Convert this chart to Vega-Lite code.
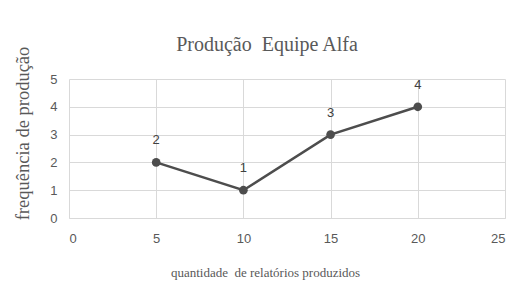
{
  "$schema": "https://vega.github.io/schema/vega-lite/v6.json",
  "autosize": {"type": "none"},
  "width": 436,
  "height": 139,
  "padding": {"left": 69, "top": 79, "right": 16, "bottom": 77},
  "background": "white",
  "config": {
    "view": {"stroke": null},
    "font": "Liberation Sans"
  },
  "title": {
    "text": "Produção\u00a0 Equipe Alfa",
    "font": "Liberation Serif",
    "fontSize": 20,
    "fontWeight": "normal",
    "color": "#595959",
    "anchor": "middle",
    "frame": "group",
    "dx": -20,
    "offset": -9
  },
  "data": {
    "values": [
      {"q": 5, "f": 2},
      {"q": 10, "f": 1},
      {"q": 15, "f": 3},
      {"q": 20, "f": 4}
    ]
  },
  "encoding": {
    "x": {
      "field": "q",
      "type": "quantitative",
      "scale": {"domain": [0, 25], "nice": false},
      "axis": {
        "values": [0, 5, 10, 15, 20, 25],
        "title": "quantidade\u00a0 de relatórios produzidos",
        "titleFont": "Liberation Serif",
        "titleFontSize": 13,
        "titleFontWeight": "normal",
        "titleColor": "#595959",
        "titleX": 196,
        "titleY": 58,
        "titleBaseline": "alphabetic",
        "labelFontSize": 13,
        "labelColor": "#595959",
        "labelPadding": 14,
        "ticks": false,
        "domainColor": "#d9d9d9",
        "gridColor": "#d9d9d9"
      }
    },
    "y": {
      "field": "f",
      "type": "quantitative",
      "scale": {"domain": [0, 5], "nice": false},
      "axis": {
        "values": [0, 1, 2, 3, 4, 5],
        "title": "frequência de produção",
        "titleFont": "Liberation Serif",
        "titleFontSize": 18.5,
        "titleFontWeight": "normal",
        "titleColor": "#595959",
        "titleX": -37,
        "titleY": 54,
        "labelFontSize": 13,
        "labelColor": "#595959",
        "labelPadding": 12,
        "ticks": false,
        "domain": false,
        "gridColor": "#d9d9d9"
      }
    }
  },
  "layer": [
    {
      "mark": {"type": "line", "color": "#4d4d4d", "strokeWidth": 2.5, "point": {"filled": true, "color": "#4d4d4d", "size": 75}}
    },
    {
      "mark": {"type": "text", "dy": -22, "fontSize": 13, "color": "#404040"},
      "encoding": {"text": {"field": "f", "type": "quantitative"}}
    }
  ]
}
